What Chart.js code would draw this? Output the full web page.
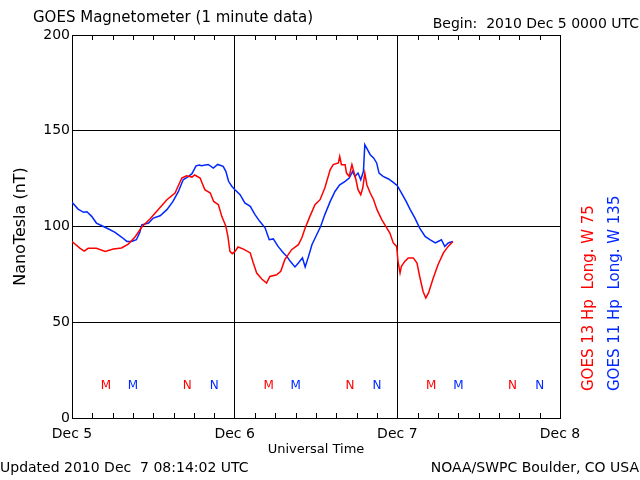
<!DOCTYPE html>
<html>
<head>
<meta charset="utf-8">
<script src="https://cdn.jsdelivr.net/npm/chart.js@4.4.0/dist/chart.umd.min.js"></script>
<style>
  html, body { margin: 0; padding: 0; background: #fff; }
  #magChart { display: block; }
</style>
</head>
<body>
<canvas id="magChart" width="640" height="480"></canvas>
<script>
// hours since 2010 Dec 5 0000 UTC
var dayHours = [0, 24, 48, 72];
var dayLabels = ['Dec 5', 'Dec 6', 'Dec 7', 'Dec 8'];
var yTicks = [0, 50, 100, 150, 200];

// GOES 13 Hp (red)
var g13Hours = [0, 1.2, 1.8, 2.4, 3.6, 4.9, 6.1, 7.3, 8.3, 9.3, 10.3, 11.5, 12.7, 14.0, 15.2, 16.2, 16.9, 17.7, 18.1, 18.9,
  19.6, 20.4, 20.9, 21.6, 22.1, 22.7, 23.0, 23.3, 23.65, 24.05, 24.5, 25.3, 26.3, 26.75, 27.25, 28.0, 28.7, 29.2, 30.2, 30.8,
  31.4, 32.4, 33.4, 33.9, 34.4, 35.1, 35.85, 36.6, 37.3, 38.1, 38.55, 39.3, 39.5, 39.75, 40.3, 40.5, 40.9, 41.3, 41.5, 41.9,
  42.2, 42.6, 42.9, 43.2, 43.5, 44.0, 44.5, 45.0, 45.7, 46.3, 46.9, 47.4, 47.9, 48.1, 48.4, 48.6, 49.1, 49.6, 50.35, 50.9,
  51.3, 51.8, 52.2, 52.6, 53.3, 54.0, 54.8, 55.5, 56.2];
var g13Values = [92.1, 88.6, 87.2, 88.6, 88.6, 87.0, 88.2, 88.8, 90.8, 94.5, 99.7, 103.9, 108.8, 114, 117.5, 125.3, 126.5, 125.8, 126.9, 125.3,
  119.2, 117.5, 113.1, 111.4, 105.3, 100.1, 94.8, 87, 85.8, 87, 89.3, 88.2, 86.2, 80.9, 75.7, 72.6, 70.5, 73.9, 74.8, 76.6,
  82.7, 87.9, 90.5, 94, 99.2, 105.3, 111.4, 114, 120.1, 129.7, 132.3, 133.2, 136.6, 132.3, 132.3, 127.9, 126.2, 132.3, 129.7, 124.4,
  119.2, 116.6, 120.1, 127.9, 121.8, 117.5, 114, 108.8, 103.6, 100.1, 96.6, 91.4, 89.6, 81.8, 75.7, 79.2, 81.8, 83.6, 83.6, 80.9,
  73.9, 66.1, 62.7, 65.3, 73.1, 80, 86.2, 89.6, 92.2];

// GOES 11 Hp (blue)
var g11Hours = [0, 0.9, 1.7, 2.2, 2.9, 3.6, 4.4, 5.4, 6.35, 7.3, 8.1, 8.8, 9.5, 10.0, 10.3, 11.3, 12.0, 13.0, 14.0, 14.9,
  15.7, 16.4, 17.2, 17.7, 18.3, 18.8, 19.1, 20.1, 20.85, 21.5, 22.3, 22.7, 23.1, 23.6, 24.05, 24.8, 25.5, 26.3, 27.0, 27.7,
  28.5, 29.1, 29.7, 30.4, 31.2, 31.7, 32.2, 32.9, 33.4, 34.0, 34.4, 34.9, 35.4, 36.1, 36.7, 37.3, 38.1, 38.8, 39.5, 40.3,
  40.9, 41.4, 41.75, 42.2, 42.6, 43.0, 43.2, 43.6, 44.0, 44.5, 44.95, 45.3, 45.9, 46.7, 47.4, 48.0, 48.6, 49.3, 49.9, 50.6,
  51.3, 52.1, 52.8, 53.6, 54.3, 54.5, 55.0, 55.5, 56.2];
var g11Values = [112.6, 109.1, 107.4, 107.7, 105.3, 101.8, 100.4, 98.7, 96.9, 94.5, 92.2, 92.2, 93.1, 96.9, 100.9, 101.8, 104.4, 105.6, 108.8, 113.1,
  118.3, 124.4, 126.2, 127.6, 131.7, 132.1, 131.7, 132.4, 130.5, 132.4, 131.4, 128.8, 123.6, 120.9, 119.2, 116.6, 112.3, 110.5, 106.2, 102.7,
  99.2, 93.1, 93.5, 89.6, 86.2, 84.4, 81.8, 78.9, 80.9, 83.6, 78.9, 84.4, 90.5, 95.7, 100.1, 106.2, 113.1, 118.3, 121.8, 123.6,
  125.3, 128.8, 126.2, 127.9, 124.4, 128.8, 142.7, 140.1, 137.5, 135.8, 133.2, 127.9, 126.2, 124.8, 123.0, 121.3, 117.5, 113.1, 108.8, 104.4,
  99.2, 94.8, 93.1, 91.4, 92.7, 93.1, 89.6, 91.4, 92.2];

// local midnight (M) and noon (N) at each satellite's longitude
var midnightG13 = [5, 29, 53];
var noonG13 = [17, 41, 65];
var midnightG11 = [9, 33, 57];
var noonG11 = [21, 45, 69];
var markLevel = 17;

var RED = '#ff0000';
var BLUE = '#0028ff';
var FONT = "'DejaVu Sans', sans-serif";

function toPoints(hours, values) {
  return hours.map(function (h, i) { return { x: h, y: values[i] }; });
}

// minor 3-hour ticks, M/N marks and the surrounding labels
var decorPlugin = {
  id: 'decor',
  afterDatasetsDraw: function (chart) {
    var ctx = chart.ctx;
    var xs = chart.scales.x, ys = chart.scales.y;
    var area = chart.chartArea;
    ctx.save();
    ctx.strokeStyle = '#000';
    ctx.lineWidth = 1;
    ctx.beginPath();
    for (var h = 3; h < 72; h += 3) {
      if (h % 24 === 0) continue;
      var px = Math.round(xs.getPixelForValue(h)) + 0.5;
      ctx.moveTo(px, area.top);
      ctx.lineTo(px, area.top + 5);
      ctx.moveTo(px, area.bottom);
      ctx.lineTo(px, area.bottom - 5);
    }
    ctx.stroke();

    ctx.font = '12px ' + FONT;
    ctx.textAlign = 'center';
    ctx.textBaseline = 'middle';
    var my = ys.getPixelForValue(markLevel);
    function marks(list, txt, col) {
      ctx.fillStyle = col;
      list.forEach(function (t) { ctx.fillText(txt, xs.getPixelForValue(t), my); });
    }
    marks(midnightG13, 'M', RED);
    marks(midnightG11, 'M', BLUE);
    marks(noonG13, 'N', RED);
    marks(noonG11, 'N', BLUE);

    ctx.fillStyle = '#000';
    ctx.textAlign = 'left';
    ctx.font = '15px ' + FONT;
    ctx.fillText('GOES Magnetometer (1 minute data)', 33, 18);
    ctx.font = '14px ' + FONT;
    ctx.textAlign = 'right';
    ctx.fillText('Begin:  2010 Dec 5 0000 UTC', 639, 24);
    ctx.textAlign = 'left';
    ctx.fillText('Updated 2010 Dec  7 08:14:02 UTC', 0, 468);
    ctx.textAlign = 'right';
    ctx.fillText('NOAA/SWPC Boulder, CO USA', 639, 468);

    ctx.font = '15px ' + FONT;
    ctx.textAlign = 'left';
    ctx.save();
    ctx.translate(589, 391);
    ctx.rotate(-Math.PI / 2);
    ctx.fillStyle = RED;
    ctx.fillText('GOES 13 Hp  Long. W 75', 0, 0);
    ctx.restore();
    ctx.save();
    ctx.translate(615, 391);
    ctx.rotate(-Math.PI / 2);
    ctx.fillStyle = BLUE;
    ctx.fillText('GOES 11 Hp  Long. W 135', 0, 0);
    ctx.restore();
    ctx.restore();
  }
};

new Chart(document.getElementById('magChart'), {
  type: 'line',
  data: {
    datasets: [
      {
        label: 'GOES 13 Hp',
        data: toPoints(g13Hours, g13Values),
        borderColor: RED,
        borderWidth: 1.5,
        pointRadius: 0,
        tension: 0,
        fill: false
      },
      {
        label: 'GOES 11 Hp',
        data: toPoints(g11Hours, g11Values),
        borderColor: BLUE,
        borderWidth: 1.5,
        pointRadius: 0,
        tension: 0,
        fill: false
      }
    ]
  },
  options: {
    responsive: false,
    animation: false,
    devicePixelRatio: 1,
    layout: { padding: { left: 0, right: 80, top: 35, bottom: 0 } },
    plugins: {
      legend: { display: false },
      tooltip: { enabled: false }
    },
    scales: {
      x: {
        type: 'linear',
        min: 0,
        max: 72,
        afterFit: function (s) { s.height = 62; },
        afterBuildTicks: function (s) { s.ticks = dayHours.map(function (v) { return { value: v }; }); },
        ticks: {
          autoSkip: false,
          maxRotation: 0,
          padding: 8,
          color: '#000',
          font: { family: FONT, size: 14 },
          callback: function (v) { return dayLabels[dayHours.indexOf(v)]; }
        },
        grid: { color: '#000', lineWidth: 1, drawTicks: false },
        border: { color: '#000', width: 1 },
        title: {
          display: true,
          text: 'Universal Time',
          color: '#000',
          font: { family: FONT, size: 13 },
          padding: { top: 0, bottom: 23 }
        }
      },
      y: {
        min: 0,
        max: 200,
        afterFit: function (s) { s.width = 72; },
        afterBuildTicks: function (s) { s.ticks = yTicks.map(function (v) { return { value: v }; }); },
        ticks: {
          padding: 2,
          color: '#000',
          font: { family: FONT, size: 14 }
        },
        grid: { color: '#000', lineWidth: 1, drawTicks: false },
        border: { color: '#000', width: 1 },
        title: {
          display: true,
          text: 'NanoTesla (nT)',
          color: '#000',
          font: { family: FONT, size: 16 },
          padding: { top: 11, bottom: 0 }
        }
      }
    }
  },
  plugins: [decorPlugin]
});
</script>
</body>
</html>
